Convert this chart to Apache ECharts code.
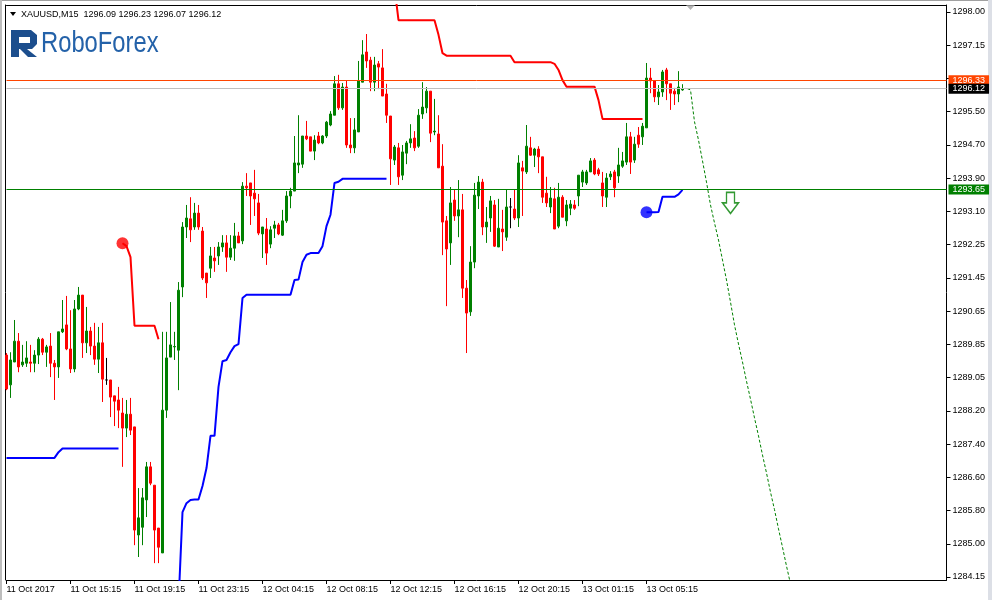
<!DOCTYPE html>
<html><head><meta charset="utf-8">
<script src="https://cdn.jsdelivr.net/npm/echarts@6/dist/echarts.min.js"></script>
<style>html,body{margin:0;padding:0;background:#fff}#c{width:992px;height:600px}</style>
</head><body><div id="c"></div>
<script>
const symbolName = 'XAUUSD,M15';
const lastQuote = ['1296.09', '1296.23', '1296.07', '1296.12'];
const xTickLabels = ['11 Oct 2017', '11 Oct 15:15', '11 Oct 19:15', '11 Oct 23:15', '12 Oct 04:15', '12 Oct 08:15', '12 Oct 12:15', '12 Oct 16:15', '12 Oct 20:15', '13 Oct 01:15', '13 Oct 05:15'];
const xTickEvery = 16;
// bottom -> top
const yTickLabels = ['1284.15', '1285.00', '1285.80', '1286.60', '1287.40', '1288.20', '1289.05', '1289.85', '1290.65', '1291.45', '1292.25', '1293.10', '1293.90', '1294.70', '1295.50', '', '1297.15', '1298.00'];
const slotCount = 236;
const priceMin = 1284.0765, priceMax = 1298.1716;

const open = [
1289.59,1288.86,1289.42,1289.93,1289.35,1289.39,1289.42,1289.39,1289.59,1289.98,
1289.66,1289.81,1289.39,1289.30,1290.16,1290.33,1289.74,1289.25,1290.72,1291.06,
1289.89,1290.18,1289.81,1289.49,1289.89,1288.98,1288.98,1288.59,1288.49,1288.17,
1287.80,1288.14,1287.83,1285.18,1285.37,1286.04,1286.85,1286.40,1285.35,1284.74,
1288.24,1289.54,1289.79,1289.71,1291.26,1292.73,1292.93,1292.73,1293.07,1292.63,
1291.60,1291.72,1291.97,1292.02,1292.24,1292.34,1291.99,1292.21,1292.51,1292.39,
1293.73,1293.81,1293.56,1293.32,1292.56,1292.68,1292.31,1292.70,1292.78,1292.53,
1292.88,1293.49,1293.61,1294.25,1294.27,1294.96,1294.94,1294.59,1294.96,1294.79,
1294.96,1295.23,1295.47,1296.24,1295.65,1296.16,1294.74,1294.67,1295.06,1296.28,
1297.02,1296.82,1296.28,1296.73,1296.63,1295.99,1295.45,1294.37,1294.67,1294.00,
1294.54,1294.79,1294.91,1294.71,1295.50,1295.65,1296.06,1295.06,1295.01,1294.22,
1292.88,1292.34,1293.39,1293.00,1293.15,1291.23,1290.65,1291.87,1293.49,1293.83,
1292.73,1292.95,1293.27,1292.24,1292.68,1292.48,1293.22,1293.17,1292.95,1294.18,
1294.08,1294.67,1294.49,1294.64,1294.45,1293.56,1293.22,1293.42,1292.75,1293.46,
1292.88,1293.19,1293.27,1293.49,1293.83,1293.81,1294.08,1294.37,1294.13,1293.81,
1293.46,1293.96,1294.08,1293.98,1294.22,1294.32,1294.94,1294.37,1294.98,1294.94,
1295.16,1296.38,1296.31,1295.92,1296.04,1296.58,1296.24,1296.06,1295.99,1296.09];
const high = [
1289.64,1289.66,1290.45,1290.13,1289.84,1289.93,1289.84,1289.71,1290.03,1290.01,
1289.84,1290.13,1289.47,1290.16,1290.94,1291.04,1290.69,1290.94,1291.26,1291.06,
1290.77,1290.28,1290.38,1290.28,1290.38,1289.52,1288.98,1288.59,1288.81,1288.54,
1288.49,1288.54,1287.83,1286.33,1286.33,1286.97,1286.97,1286.40,1285.35,1290.16,
1290.16,1290.89,1290.16,1291.38,1292.85,1293.27,1293.46,1293.32,1293.27,1292.73,
1291.60,1292.24,1292.24,1292.36,1292.53,1292.53,1292.53,1292.83,1292.61,1293.83,
1294.05,1293.81,1294.13,1293.54,1292.73,1292.95,1292.75,1292.88,1292.83,1293.15,
1293.61,1293.69,1294.96,1295.47,1294.96,1295.33,1294.94,1294.98,1295.06,1294.98,
1295.33,1295.57,1296.43,1296.46,1296.26,1296.33,1295.40,1295.40,1296.80,1297.31,
1297.46,1296.90,1296.90,1296.80,1297.09,1296.24,1295.45,1294.74,1294.79,1294.74,
1294.84,1295.25,1295.08,1295.62,1296.28,1296.16,1296.06,1295.87,1295.47,1294.76,
1293.00,1293.71,1293.64,1293.88,1293.54,1291.43,1292.26,1293.81,1293.98,1293.91,
1293.22,1293.49,1293.39,1293.42,1293.15,1293.66,1293.44,1293.66,1294.49,1294.35,
1295.23,1294.94,1294.67,1294.71,1294.45,1293.96,1293.71,1293.69,1293.81,1293.51,
1293.39,1293.39,1293.39,1294.00,1294.13,1294.13,1294.42,1294.42,1294.18,1294.08,
1294.05,1294.10,1294.13,1294.67,1294.57,1295.28,1295.06,1294.94,1295.18,1295.28,
1296.75,1296.63,1296.33,1296.21,1296.58,1296.63,1296.24,1296.14,1296.55,1296.23];
const low = [
1288.73,1288.54,1289.42,1289.17,1289.30,1289.30,1289.17,1289.17,1289.37,1289.59,
1289.30,1289.05,1288.49,1289.03,1290.13,1289.71,1289.15,1289.17,1290.69,1289.52,
1289.64,1289.59,1289.35,1289.15,1288.44,1288.86,1288.07,1287.85,1287.80,1286.85,
1287.58,1287.63,1284.93,1284.64,1284.93,1285.62,1286.40,1284.49,1284.49,1284.74,
1288.05,1289.54,1289.47,1288.73,1291.01,1292.46,1292.36,1292.66,1292.66,1291.43,
1290.99,1291.48,1291.63,1291.80,1292.12,1291.63,1291.92,1291.90,1292.34,1292.31,
1293.49,1292.78,1293.00,1292.53,1291.97,1291.80,1292.21,1292.46,1292.53,1292.51,
1292.83,1293.19,1293.61,1294.05,1294.18,1294.86,1294.59,1294.37,1294.76,1294.76,
1294.91,1295.20,1295.47,1295.60,1295.60,1294.67,1294.54,1294.54,1295.06,1296.28,
1296.63,1296.06,1296.06,1296.11,1295.94,1295.28,1293.76,1294.25,1293.76,1293.88,
1294.27,1294.67,1294.59,1294.67,1295.38,1295.52,1294.81,1294.98,1294.18,1292.04,
1290.79,1291.80,1292.88,1292.48,1290.99,1289.64,1290.55,1291.72,1293.17,1292.53,
1292.34,1292.61,1292.24,1292.24,1292.14,1292.39,1292.70,1292.90,1292.73,1293.00,
1294.03,1294.47,1294.20,1294.05,1293.32,1293.22,1293.07,1292.68,1292.70,1292.97,
1292.75,1293.02,1293.15,1293.24,1293.71,1293.76,1294.08,1294.00,1293.98,1293.22,
1293.22,1293.88,1293.46,1293.81,1294.18,1294.25,1294.03,1294.30,1294.67,1294.74,
1295.16,1296.01,1295.79,1295.72,1295.92,1295.84,1295.60,1295.72,1295.79,1296.07];
const close = [
1288.76,1289.47,1289.93,1289.30,1289.42,1289.52,1289.39,1289.59,1289.98,1289.66,
1289.79,1289.39,1289.30,1290.16,1290.23,1289.74,1289.25,1290.72,1291.06,1289.89,
1290.18,1289.81,1289.49,1289.89,1289.00,1288.98,1288.56,1288.46,1288.24,1287.80,
1288.14,1287.75,1285.30,1285.60,1286.09,1286.85,1286.45,1285.30,1284.88,1288.24,
1289.52,1289.84,1289.80,1291.18,1292.73,1292.95,1292.66,1293.07,1292.73,1291.48,
1291.36,1292.02,1291.90,1292.24,1292.34,1291.99,1292.21,1292.51,1292.34,1293.73,
1293.69,1293.49,1293.42,1292.58,1292.73,1292.09,1292.66,1292.78,1292.56,1292.88,
1293.49,1293.61,1294.30,1294.30,1294.96,1294.89,1294.59,1294.86,1294.79,1294.96,
1295.30,1295.50,1296.24,1295.65,1296.16,1294.74,1294.67,1295.11,1296.31,1296.95,
1296.80,1296.28,1296.70,1296.65,1295.94,1295.47,1294.40,1294.69,1293.96,1294.57,
1294.79,1294.89,1294.67,1295.47,1295.67,1296.06,1295.03,1295.08,1294.18,1292.85,
1292.19,1293.32,1293.00,1293.15,1291.23,1290.62,1291.87,1293.51,1293.83,1292.73,
1292.85,1293.37,1292.26,1292.70,1292.61,1293.22,1293.22,1292.95,1294.30,1294.10,
1294.71,1294.49,1294.64,1294.45,1293.46,1293.32,1293.44,1292.68,1293.46,1292.97,
1293.27,1293.29,1293.19,1294.00,1294.08,1294.08,1294.35,1294.03,1294.03,1293.49,
1293.93,1294.03,1293.69,1294.25,1294.35,1294.94,1294.32,1294.76,1294.76,1295.20,
1296.38,1296.31,1295.92,1296.04,1296.53,1296.24,1296.01,1295.99,1296.16,1296.12];

// trailing stop indicator (start bar index + values)
const upperStopSegments = [
  {from: 29, values: [1292.33,1292.26,1291.99,1290.31,1290.31,1290.31,1290.31,1290.31,1290.31,1289.98]},
  {from: 97, values: [1298.60,1297.80,1297.80,1297.80,1297.80,1297.80,1297.80,1297.80,1297.80,1297.80,1297.80,
    1297.44,1296.99,
    1296.93,1296.93,1296.93,1296.93,1296.93,1296.93,1296.93,1296.93,1296.93,1296.93,1296.93,1296.93,1296.93,1296.93,1296.93,1296.93,1296.93,
    1296.77,1296.77,1296.77,1296.77,1296.77,1296.77,1296.77,1296.77,1296.77,1296.77,
    1296.73,1296.58,1296.33,
    1296.17,1296.17,1296.17,1296.17,1296.17,1296.17,1296.17,1296.17,
    1295.84,
    1295.38,1295.38,1295.38,1295.38,1295.38,1295.38,1295.38,1295.38,1295.38,1295.38,1295.38]}
];
const lowerStopSegments = [
  {from: 0, values: [1287.07,1287.07,1287.07,1287.07,1287.07,1287.07,1287.07,1287.07,1287.07,1287.07,1287.07,1287.07,1287.07,
    1287.21,
    1287.30,1287.30,1287.30,1287.30,1287.30,1287.30,1287.30,1287.30,1287.30,1287.30,1287.30,1287.30,1287.30,1287.30,1287.30]},
  {from: 43, values: [1283.50,1285.74,1285.96,1286.04,1286.05,1286.05,1286.38,1286.82,1287.61,1287.61,1288.81,1289.44,1289.47,1289.66,1289.81,1289.86,1290.99,
    1291.07,1291.07,1291.07,1291.07,1291.07,1291.07,1291.07,1291.07,1291.07,1291.07,1291.07,1291.07,
    1291.43,1291.44,1291.87,1292.05,1292.09,1292.09,1292.09,1292.26,1292.75,1293.03,1293.81,1293.84,
    1293.91,1293.91,1293.91,1293.91,1293.91,1293.91,1293.91,1293.91,1293.91,1293.91,1293.91,1293.91]},
  {from: 160, values: [1293.09,1293.09,1293.09,1293.10,1293.47,1293.47,1293.47,1293.47,1293.53,1293.64]}
];
const forecastFrom = 169;
const forecastValues = [1296.12,1296.13,1296.09,1295.31,1294.86,1294.35,1293.83,1293.27,1292.83,1292.41,1291.92,1291.43,1290.89,1290.33,
  1289.86,1289.42,1288.95,1288.51,1288.05,1287.61,1287.14,1286.70,1286.23,1285.80,1285.33,1284.88,1284.42,1283.98];
const levelValues = [1296.33, 1296.12, 1293.65];
const signalArrow = {index: 181, price: 1293.32};
const chartShift = {index: 171, price: 1298.11};

// ---- build ----
const FONT = '"Liberation Sans", Arial, sans-serif';
const slots = Array.from({length: slotCount}, (_, i) => String(i));
function expand(segs) {
  const a = new Array(slotCount).fill(null);
  segs.forEach(s => s.values.forEach((v, k) => { a[s.from + k] = v; }));
  return a;
}
const upperStop = expand(upperStopSegments);
const lowerStop = expand(lowerStopSegments);
const forecast = expand([{from: forecastFrom, values: forecastValues}]);
const candles = open.map((o, i) => [o, close[i], low[i], high[i]]);
const upperDots = upperStopSegments.filter(s => s.from > 0).map(s => [s.from, s.values[0]]);
const lowerDots = lowerStopSegments.filter(s => s.from > 0).map(s => [s.from, s.values[0]]);
const levelColors = ['#FF4500', '#C0C0C0', '#008000'];
const levelTagColors = ['#FF4500', '#000000', '#008000'];
const isXTick = (i) => i % xTickEvery === 0 && (i / xTickEvery) < xTickLabels.length;

const chart = echarts.init(document.getElementById('c'), null, {renderer: 'canvas'});
chart.setOption({
  animation: false,
  backgroundColor: '#ffffff',
  grid: [
    {left: 6.5, right: 45.5, top: 5, bottom: 20},
    {left: 930, right: 45.5, top: 12, bottom: 23}
  ],
  xAxis: [
    {type: 'category', gridIndex: 0, data: slots, boundaryGap: false, position: 'bottom',
     axisLine: {show: true, onZero: false, lineStyle: {color: '#000', width: 1}},
     axisTick: {show: true, length: 4, interval: (i) => isXTick(i), lineStyle: {color: '#000'}},
     axisLabel: {interval: (i) => isXTick(i), formatter: (v, i) => xTickLabels[i / xTickEvery] || '',
       align: 'left', margin: 5, color: '#000', fontSize: 9, fontFamily: FONT},
     splitLine: {show: false}},
    {type: 'category', gridIndex: 0, data: slots, boundaryGap: false, position: 'top',
     axisLine: {show: true, onZero: false, lineStyle: {color: '#000', width: 1}},
     axisTick: {show: false}, axisLabel: {show: false}, splitLine: {show: false}},
    {type: 'value', gridIndex: 1, min: 0, max: 1, show: false}
  ],
  yAxis: [
    {type: 'value', gridIndex: 0, min: priceMin, max: priceMax, position: 'left', offset: 1.5,
     axisLine: {show: true, onZero: false, lineStyle: {color: '#000', width: 1}},
     axisTick: {show: false}, axisLabel: {show: false}, splitLine: {show: false}},
    {type: 'value', gridIndex: 0, min: priceMin, max: priceMax, position: 'right',
     axisLine: {show: true, onZero: false, lineStyle: {color: '#000', width: 1}},
     axisTick: {show: false}, axisLabel: {show: false}, splitLine: {show: false}},
    {type: 'category', gridIndex: 1, data: yTickLabels, boundaryGap: false, position: 'right',
     axisLine: {show: false, onZero: false},
     axisTick: {show: true, length: 4, interval: 0, lineStyle: {color: '#000'}},
     axisLabel: {interval: 0, margin: 6, color: '#000', fontSize: 9, fontFamily: FONT},
     splitLine: {show: false}}
  ],
  series: [
    {type: 'candlestick', xAxisIndex: 0, yAxisIndex: 0, data: candles, barWidth: 2,
     itemStyle: {color: '#008000', color0: '#FF0000', borderColor: '#008000', borderColor0: '#FF0000', borderColorDoji: '#000000', borderWidth: 1},
     markLine: {
       silent: true, symbol: 'none', animation: false,
       data: levelValues.map((v, k) => ({
         yAxis: v,
         lineStyle: {color: levelColors[k], width: 1, type: 'solid'},
         label: {backgroundColor: levelTagColors[k]}
       })),
       label: {show: true, position: 'end', distance: 2, formatter: (p) => Number(p.value).toFixed(2),
         color: '#fff', fontSize: 9, fontFamily: FONT, lineHeight: 10, padding: [0, 4, 0, 4]}
     }},
    {type: 'line', xAxisIndex: 0, yAxisIndex: 0, data: upperStop, showSymbol: false, connectNulls: false,
     lineStyle: {color: '#FF0000', width: 2}, z: 3},
    {type: 'line', xAxisIndex: 0, yAxisIndex: 0, data: lowerStop, showSymbol: false, connectNulls: false,
     lineStyle: {color: '#0000FF', width: 2}, z: 3},
    {type: 'scatter', xAxisIndex: 0, yAxisIndex: 0, data: upperDots, symbol: 'circle', symbolSize: 12,
     itemStyle: {color: '#FF0000'}, z: 4},
    {type: 'scatter', xAxisIndex: 0, yAxisIndex: 0, data: lowerDots, symbol: 'circle', symbolSize: 12,
     itemStyle: {color: '#0000FF'}, z: 4},
    {type: 'line', xAxisIndex: 0, yAxisIndex: 0, data: forecast, showSymbol: false, connectNulls: false,
     lineStyle: {color: '#008000', width: 1, type: [3, 2]}, z: 3},
    {type: 'scatter', xAxisIndex: 0, yAxisIndex: 0, data: [[signalArrow.index, signalArrow.price]],
     symbol: 'path://M4,0 L12,0 L12,11 L16,11 L8,22 L0,11 L4,11 Z', symbolSize: [16, 21],
     itemStyle: {color: '#ffffff', borderColor: '#008000', borderWidth: 1.5}, z: 5},
    {type: 'scatter', xAxisIndex: 0, yAxisIndex: 0, data: [[chartShift.index, chartShift.price]],
     symbol: 'triangle', symbolRotate: 180, symbolSize: [9, 5], itemStyle: {color: '#A0A0A0'}, z: 5}
  ],
  graphic: [
    {type: 'rect', silent: true, shape: {x: 0, y: 0, width: 992, height: 1}, style: {fill: '#A0A0A0'}},
    {type: 'rect', silent: true, shape: {x: 0, y: 0, width: 2, height: 600}, style: {fill: '#BDBDBD'}},
    {type: 'rect', silent: true, shape: {x: 988, y: 0, width: 4, height: 600}, style: {fill: '#DCDFE6'}},
    {type: 'polygon', silent: true, shape: {points: [[10, 12], [16, 12], [13, 16]]}, style: {fill: '#000'}},
    {type: 'text', silent: true, x: 21, y: 14.5,
     style: {text: symbolName + '  ' + lastQuote.join(' '), font: '9px ' + FONT, fill: '#000', verticalAlign: 'middle', align: 'left'}},
    {type: 'polygon', silent: true,
     shape: {points: [[11, 30], [31, 30], [37, 35], [37, 44], [32, 49], [27, 49], [37, 57], [28, 57], [20, 49], [19, 49], [19, 57], [11, 57]]},
     style: {fill: '#1C4E8D'}},
    {type: 'rect', silent: true, shape: {x: 19, y: 37, width: 11, height: 6}, style: {fill: '#ffffff'}},
    {type: 'text', silent: true, x: 41, y: 44, scaleX: 0.82,
     style: {text: 'RoboForex', font: '29px "Liberation Sans", sans-serif', fill: '#2462A9', verticalAlign: 'middle', align: 'left'}}
  ]
});
</script>
</body></html>
